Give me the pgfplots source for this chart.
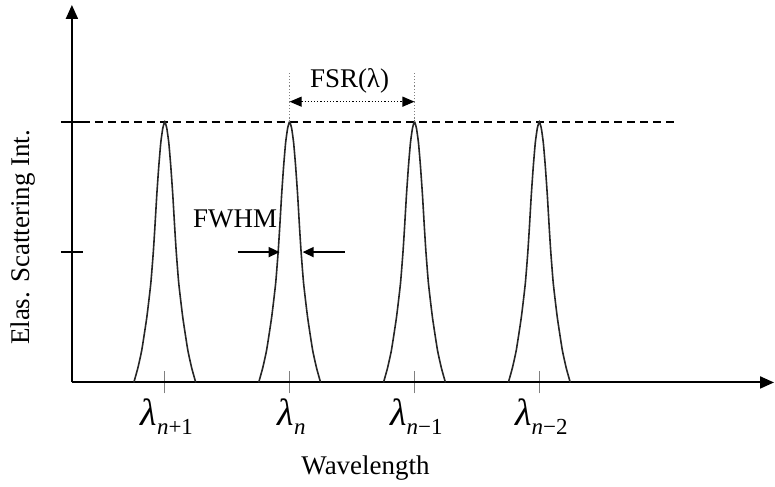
\documentclass[border=0pt]{standalone}
\usepackage{pgfplots}
\pgfplotsset{compat=1.18}
\usetikzlibrary{arrows.meta}
\usepackage{fontspec}
\setmainfont{Liberation Serif}

% wavelength tick label: italic lambda with a lowered index
\newcommand{\lam}[1]{{\fontsize{19}{22}\selectfont\textit{λ}}\raisebox{-4.5pt}{\fontsize{11.5}{14}\selectfont #1}}

\begin{document}
\begin{tikzpicture}
\begin{axis}[
    scale only axis,
    width=351.5pt, height=189pt,
    xmin=72, xmax=775,
    ymin=0, ymax=1.448,
    axis lines=left,
    axis line style={line width=1pt, -{Triangle[length=7pt,width=6pt]}},
    xtick={165,290,415,540},
    xticklabels={\lam{\textit{n}+1},\lam{\textit{n}},\lam{\textit{n}−1},\lam{\textit{n}−2}},
    ytick={0.5,1},
    yticklabels={},
    tick align=center,
    major tick length=11pt,
    xtick style={gray, line width=0.5pt},
    ytick style={black, line width=0.8pt},
    xticklabel style={yshift=1pt, xshift=1pt},
    clip=false,
]
% invisible frame so the page has the reference's margins
\path (axis cs:0,1.467) rectangle (axis cs:775,-0.391);

% reference level
\addplot[black, line width=1pt, dash pattern=on 4pt off 2.5pt] coordinates {(82,1)(675,1)};

% peaks
\addplot[black!85, line width=0.8pt, smooth, tension=0.3] coordinates {
(134,0)(138,0.055)(142,0.125)(147,0.25)(151,0.38)(153.5,0.5)(155,0.59)(157,0.72)(159,0.83)(161,0.92)(163,0.975)(165,1)
(167,0.975)(169,0.92)(171,0.83)(173,0.72)(175,0.59)(176.5,0.5)(179,0.38)(183,0.25)(188,0.125)(192,0.055)(196,0)};
\addplot[black!85, line width=0.8pt, smooth, tension=0.3] coordinates {
(259,0)(263,0.055)(267,0.125)(272,0.25)(276,0.38)(278.5,0.5)(280,0.59)(282,0.72)(284,0.83)(286,0.92)(288,0.975)(290,1)
(292,0.975)(294,0.92)(296,0.83)(298,0.72)(300,0.59)(301.5,0.5)(304,0.38)(308,0.25)(313,0.125)(317,0.055)(321,0)};
\addplot[black!85, line width=0.8pt, smooth, tension=0.3] coordinates {
(384,0)(388,0.055)(392,0.125)(397,0.25)(401,0.38)(403.5,0.5)(405,0.59)(407,0.72)(409,0.83)(411,0.92)(413,0.975)(415,1)
(417,0.975)(419,0.92)(421,0.83)(423,0.72)(425,0.59)(426.5,0.5)(429,0.38)(433,0.25)(438,0.125)(442,0.055)(446,0)};
\addplot[black!85, line width=0.8pt, smooth, tension=0.3] coordinates {
(509,0)(513,0.055)(517,0.125)(522,0.25)(526,0.38)(528.5,0.5)(530,0.59)(532,0.72)(534,0.83)(536,0.92)(538,0.975)(540,1)
(542,0.975)(544,0.92)(546,0.83)(548,0.72)(550,0.59)(551.5,0.5)(554,0.38)(558,0.25)(563,0.125)(567,0.055)(571,0)};

% FSR markers
\addplot[gray, line width=0.6pt, densely dotted] coordinates {(290,1)(290,1.188)};
\addplot[gray, line width=0.6pt, densely dotted] coordinates {(415,1)(415,1.188)};
\addplot[black, line width=0.6pt, densely dotted,
    {Triangle[length=6pt,width=5pt]}-{Triangle[length=6pt,width=5pt]}]
    coordinates {(290,1.077)(415,1.077)};

% FWHM arrows
\addplot[black, line width=0.8pt, -{Triangle[length=5.5pt,width=5pt]}] coordinates {(238,0.5)(280,0.5)};
\addplot[black, line width=0.8pt, -{Triangle[length=5.5pt,width=5pt]}] coordinates {(345,0.5)(303,0.5)};

% labels
\node[anchor=base, font=\fontsize{13.5}{16}\selectfont] at (axis cs:235.5,0.594) {FWHM};
\node[anchor=base, font=\fontsize{13.5}{16}\selectfont] at (axis cs:350,1.130) {FSR(λ)};
\node[anchor=base, font=\fontsize{13.5}{16}\selectfont] at (axis cs:366,-0.352) {Wavelength};
\node[rotate=90, font=\fontsize{13.5}{16}\selectfont] at (axis cs:23,0.556) {Elas. Scattering Int.};
\end{axis}
\end{tikzpicture}
\end{document}
